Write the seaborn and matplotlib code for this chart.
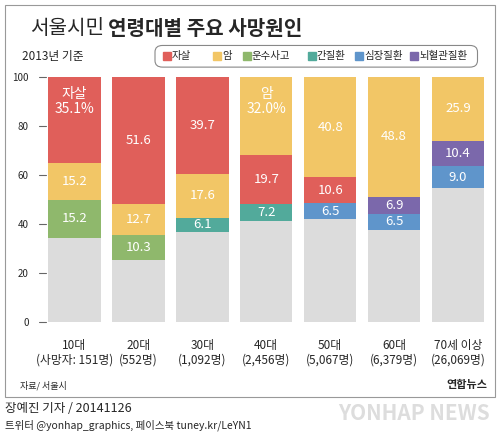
import matplotlib
matplotlib.use("Agg")
import matplotlib.pyplot as plt
import seaborn as sns
from matplotlib.patches import Rectangle, FancyBboxPatch

sns.set_style("white")
plt.rcParams['font.family'] = ['Noto Sans CJK KR', 'DejaVu Sans']

ages = ["10대", "20대", "30대", "40대", "50대", "60대", "70세 이상"]
deaths = ["(사망자: 151명)", "(552명)", "(1,092명)", "(2,456명)", "(5,067명)", "(6,379명)", "(26,069명)"]
causes = ["자살", "암", "운수사고", "간질환", "심장질환", "뇌혈관질환"]
colors = {"자살": "#e05f5a", "암": "#f2c666", "운수사고": "#8fb86c",
          "간질환": "#52aa9b", "심장질환": "#5f95cb", "뇌혈관질환": "#7b68ab", "기타": "#dcdcdc"}
# stacking order from top down per age group
stacks = [
    [("자살", 35.1), ("암", 15.2), ("운수사고", 15.2)],
    [("자살", 51.6), ("암", 12.7), ("운수사고", 10.3)],
    [("자살", 39.7), ("암", 17.6), ("간질환", 6.1)],
    [("암", 32.0), ("자살", 19.7), ("간질환", 7.2)],
    [("암", 40.8), ("자살", 10.6), ("심장질환", 6.5)],
    [("암", 48.8), ("뇌혈관질환", 6.9), ("심장질환", 6.5)],
    [("암", 25.9), ("뇌혈관질환", 10.4), ("심장질환", 9.0)],
]

fig = plt.figure(figsize=(5, 4.33), dpi=100)
fig.patches.append(Rectangle((0.01, 0.083), 0.98, 0.905, transform=fig.transFigure,
                             fill=False, ec="#999999", lw=0.8))
ax = fig.add_axes([0.085, 0.256, 0.895, 0.566])
w = 0.82
for i, st in enumerate(stacks):
    top = 100.0
    for j, (c, v) in enumerate(st):
        ax.bar(i, v, bottom=top - v, width=w, color=colors[c], lw=0)
        if i in (0, 3) and j == 0:
            txt = f"{c}\n{v:.1f}%"
            ax.text(i, top - 4, txt, ha="center", va="top", color="white", fontsize=10, linespacing=1.1)
        else:
            ax.text(i, top - v / 2, f"{v:.1f}", ha="center", va="center", color="white", fontsize=9.5)
        top -= v
    ax.bar(i, top, bottom=0, width=w, color=colors["기타"], lw=0)

ax.set_ylim(0, 100)
ax.set_xlim(-0.5, 6.5)
ax.set_yticks([0, 20, 40, 60, 80, 100])
ax.tick_params(axis="y", labelsize=7, length=0, pad=10)
ax.set_xticks(range(7))
ax.set_xticklabels([f"{a}\n{d}" for a, d in zip(ages, deaths)], fontsize=8.5, linespacing=1.2)
ax.tick_params(axis="x", length=0, pad=12)
for s in ax.spines.values():
    s.set_visible(False)
for y in [0, 20, 40, 60, 80, 100]:
    ax.plot([-0.55, -0.45], [y, y], color="#666666", lw=0.8, clip_on=False)

fig.text(0.06, 0.935, "서울시민", fontsize=14.5, va="center")
fig.text(0.215, 0.935, "연령대별 주요 사망원인", fontsize=14.5, va="center", weight="bold")
fig.text(0.045, 0.87, "2013년 기준", fontsize=8.5, va="center")
fig.patches.append(FancyBboxPatch((0.31, 0.845), 0.645, 0.05, boxstyle="round,pad=0,rounding_size=0.015",
                                  transform=fig.transFigure, fill=False, ec="#888888", lw=0.8))
xs = [0.325, 0.425, 0.485, 0.615, 0.71, 0.82]
for x, c in zip(xs, causes):
    fig.patches.append(Rectangle((x, 0.862), 0.016, 0.018, transform=fig.transFigure, color=colors[c]))
    fig.text(x + 0.019, 0.87, c, fontsize=7.5, va="center")
fig.text(0.04, 0.11, "자료/ 서울시", fontsize=6.5, style="italic", va="center")
fig.text(0.975, 0.113, "연합뉴스", fontsize=8, weight="bold", ha="right", va="center")
fig.text(0.01, 0.057, "장예진 기자 / 20141126", fontsize=9, va="center")
fig.text(0.01, 0.018, "트위터 @yonhap_graphics, 페이스북 tuney.kr/LeYN1", fontsize=7.5, va="center")
fig.text(0.98, 0.045, "YONHAP NEWS", fontsize=15, color="#dddddd", ha="right", va="center", weight="bold", style="italic")
fig.savefig("out.png", dpi=100)
